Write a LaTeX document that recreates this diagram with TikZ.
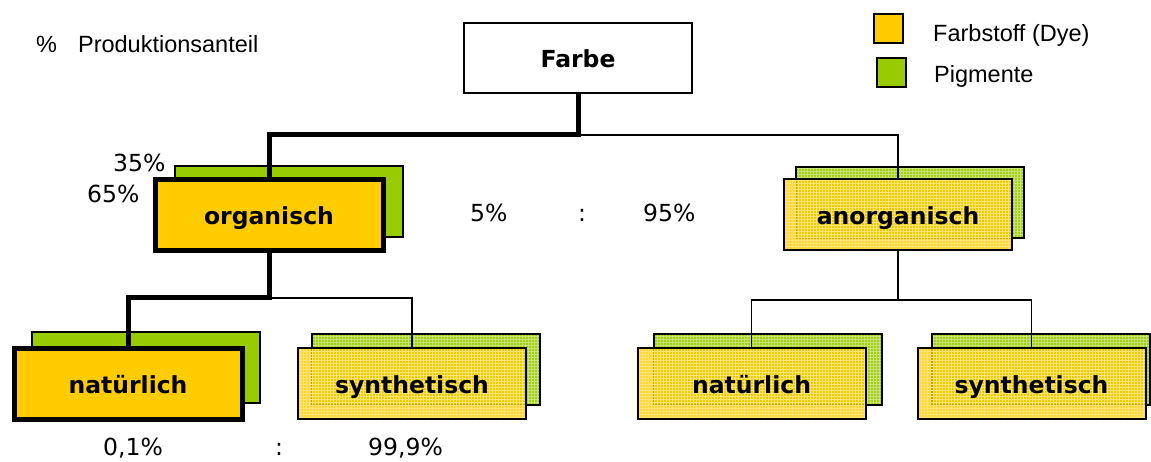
\documentclass[tikz,border=0pt]{standalone}
\usepackage{fontspec}
\setmainfont{Liberation Sans}
\newfontfamily\dvfont{DejaVu Sans}
\usetikzlibrary{backgrounds,patterns}
\definecolor{dyeyellow}{HTML}{FFCC00}
\definecolor{pigmentgreen}{HTML}{99CC00}
\tikzset{
  box/.style = {
    draw, minimum width=228pt, minimum height=71pt, inner sep=0pt,
    text height=19pt, text depth=0pt,
    font=\dvfont\bfseries\fontsize{23.5}{28}\selectfont
  },
  dye/.style = {box, fill=dyeyellow, line width=5pt},
  pigment/.style = {box, fill=pigmentgreen, line width=2pt},
  faintdye/.style = {
    box, line width=2pt,
    preaction={fill=dyeyellow, fill opacity=0.8},
    preaction={pattern=grid, pattern color=dyeyellow!55!white}
  },
  faintpigment/.style = {
    box, line width=2pt,
    preaction={fill=pigmentgreen!92!white},
    preaction={pattern=grid, pattern color=pigmentgreen!55!white}
  },
  key/.style = {draw, line width=2pt, minimum size=29pt, inner sep=0pt},
  legendtext/.style = {font=\fontsize{23.5}{28}\selectfont, inner sep=0pt, anchor=base west},
  sharetext/.style = {font=\dvfont\fontsize{23.5}{28}\selectfont, inner sep=0pt, anchor=base west},
  strong/.style = {line width=5pt},
  weak/.style = {line width=1.8pt}
}

\begin{document}
\begin{tikzpicture}[x=1pt, y=-1pt]
  \useasboundingbox (0,0) rectangle (1151,462);

  % head note and legend
  \node[legendtext] (unit) at (36,53) {\%\hspace{21pt}Produktionsanteil};
  \node[key, fill=dyeyellow] (keydye) at (888.5,28.5) {};
  \node[key, fill=pigmentgreen] (keypig) at (891.5,72.5) {};
  \node[legendtext] (keydyetext) at (933,42) {Farbstoff (Dye)};
  \node[legendtext] (keypigtext) at (934,83) {Pigmente};

  % tree
  \node[box, line width=1.5pt, fill=white, minimum height=70pt] (farbe) at (578,58) {Farbe};
  \node[dye] (org) at (269,215) {organisch};
  \node[faintdye] (anorg) at (898,215) {anorganisch};
  \node[dye] (natL) at (128,384) {natürlich};
  \node[faintdye] (synL) at (412,383.5) {synthetisch};
  \node[faintdye] (natR) at (751.5,383.5) {natürlich};
  \node[faintdye] (synR) at (1031.5,383.5) {synthetisch};

  \begin{scope}[on background layer]
    \node[pigment] (orgback) at (289,201.5) {};
    \node[faintpigment] (anorgback) at (909.5,203) {};
    \node[pigment] (natLback) at (145.5,367) {};
    \node[faintpigment] (synLback) at (425.5,369) {};
    \node[faintpigment] (natRback) at (768,369) {};
    \node[faintpigment, minimum width=218pt] (synRback) at (1041,369) {};
  \end{scope}

  \coordinate (topfork) at (578,135);
  \coordinate (orgfork) at (269,298);
  \coordinate (anorgfork) at (898,300);
  \draw[strong] (farbe.south) -- (topfork) -| (org.north);
  \draw[weak] (topfork) -| (anorg.north);
  \draw[strong] (org.south) -- (orgfork) -| (natL.north);
  \draw[weak] (orgfork) -| (synL.north);
  \draw[weak] (anorg.south) -- (anorgfork);
  \draw[weak] (anorgfork) -| (natR.north);
  \draw[weak] (anorgfork) -| (synR.north);

  % shares
  \node[sharetext] (orgdye) at (113,172) {35\%};
  \node[sharetext] (orgpig) at (87,203) {65\%};
  \node[sharetext] (dyeshare) at (470,222) {5\%};
  \node[sharetext, anchor=base] (ratioa) at (582,222) {:};
  \node[sharetext] (pigshare) at (643,222) {95\%};
  \node[sharetext] (natshare) at (103,455) {0,1\%};
  \node[sharetext, anchor=base] (ratiob) at (279,455) {:};
  \node[sharetext] (synshare) at (368,455) {99,9\%};
\end{tikzpicture}
\end{document}
